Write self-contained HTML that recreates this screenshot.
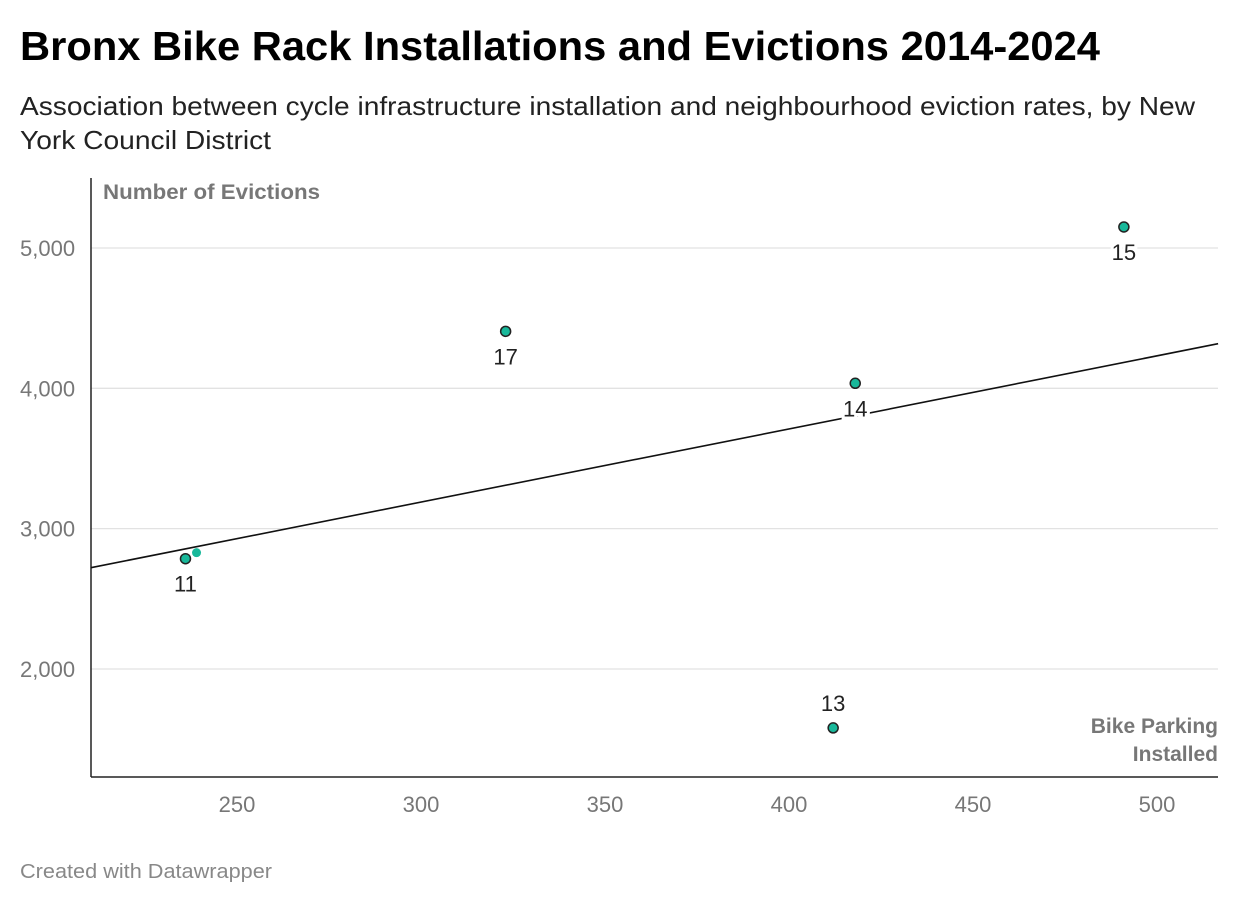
<!DOCTYPE html>
<html><head><meta charset="utf-8"><style>
body{margin:0;background:#fff;font-family:"Liberation Sans",sans-serif;}
</style></head><body>
<svg width="1240" height="904" xmlns="http://www.w3.org/2000/svg" id="svg" font-family="Liberation Sans, sans-serif">
<text x="20" y="60" font-size="41" font-weight="bold" fill="#000" textLength="1080" lengthAdjust="spacingAndGlyphs">Bronx Bike Rack Installations and Evictions 2014-2024</text>
<text x="20" y="115" font-size="26" fill="#222" textLength="1175" lengthAdjust="spacingAndGlyphs">Association between cycle infrastructure installation and neighbourhood eviction rates, by New</text>
<text x="20" y="149" font-size="26" fill="#222" textLength="251" lengthAdjust="spacingAndGlyphs">York Council District</text>
<text x="20" y="878" font-size="20" fill="#888" textLength="252" lengthAdjust="spacingAndGlyphs">Created with Datawrapper</text>
<g id="grid"></g><g id="marks"></g>
</svg>
<script>
const xTicks=[250,300,350,400,450,500];
const yTicks=[2000,3000,4000,5000];
const districts=["11","17","14","15","13"];
const bikeParking=[236,323,418,491,412];
const evictions=[2786,4406,4036,5150,1580];
const extraX=[239];
const extraY=[2829];
const trendX=[210.3,516.6];
const trendY=[2722,4318];
const NS="http://www.w3.org/2000/svg";
const svg=document.getElementById('svg'),grid=document.getElementById('grid'),marks=document.getElementById('marks');
const X0=91,X1=1218,Y0=777,Y1=178;
const xs=v=>237+(v-250)*3.68;
const ys=v=>248+(5000-v)*0.14033;
function mk(tag,attrs,parent,txt){const e=document.createElementNS(NS,tag);for(const k in attrs)e.setAttribute(k,attrs[k]);if(txt!==undefined)e.textContent=txt;parent.appendChild(e);return e;}
yTicks.forEach(t=>{
 const l=mk('line',{x1:X0,x2:X1,y1:ys(t),y2:ys(t),stroke:'#e2e2e2','stroke-width':1.3},grid);
 
 
 const tx=mk('text',{x:20,y:ys(t)+8,'font-size':22,fill:'#777'},grid,t.toLocaleString('en-US'));
 
 
});
xTicks.forEach(t=>{
 const tx=mk('text',{x:xs(t),y:812,'font-size':22,fill:'#777','text-anchor':'middle'},grid,t);
 
 
});
let a=mk('line',{x1:X0,x2:X0,y1:Y1,y2:Y0,stroke:'#222','stroke-width':1.5},grid);


a=mk('line',{x1:X0,x2:X1,y1:Y0,y2:Y0,stroke:'#222','stroke-width':1.5},grid);


a=mk('text',{x:103,y:199,'font-size':21,'font-weight':'bold',fill:'#777',textLength:217,lengthAdjust:'spacingAndGlyphs'},grid,'Number of Evictions');


a=mk('text',{x:1218,y:733,'font-size':21,'font-weight':'bold',fill:'#777','text-anchor':'end'},grid,'Bike Parking');


a=mk('text',{x:1218,y:761,'font-size':21,'font-weight':'bold',fill:'#777','text-anchor':'end'},grid,'Installed');


a=mk('line',{x1:xs(trendX[0]),y1:ys(trendY[0]),x2:xs(trendX[1]),y2:ys(trendY[1]),stroke:'#111','stroke-width':1.6},marks);


extraX.forEach((v,i)=>{
 const c=mk('circle',{cx:xs(v),cy:ys(extraY[i]),r:4.5,fill:'#18b89a'},marks);
 
 
});
districts.forEach((d,i)=>{
 const cx=xs(bikeParking[i]),cy=ys(evictions[i]);
 const c=mk('circle',{cx:cx,cy:cy,r:5,fill:'#18b89a',stroke:'#222','stroke-width':1.5},marks);
 
 
 const above=d==="13";
 const ly=above?cy-17:cy+33;
 const t=mk('text',{x:cx,y:ly,'font-size':22,fill:'#222','text-anchor':'middle',stroke:'#fff','stroke-width':6,'paint-order':'stroke'},marks,d);
 
 
});
</script>
</body></html>
